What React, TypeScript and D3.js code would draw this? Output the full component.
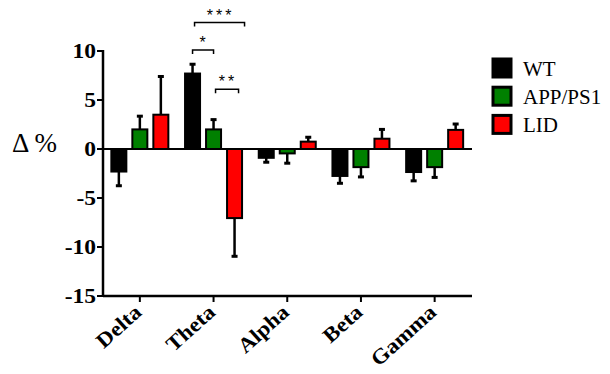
import * as d3 from "d3"

const bands = ["Delta", "Theta", "Alpha", "Beta", "Gamma"]
const groups = ["WT", "APP/PS1", "LID"]
const groupColors = ["#000000", "#008000", "#ff0000"]
const wtMeans = [-2.3, 7.7, -0.9, -2.75, -2.35]
const wtErr = [1.5, 1.0, 0.5, 0.8, 0.95]
const appMeans = [2.0, 2.0, -0.45, -1.85, -1.85]
const appErr = [1.4, 1.05, 1.05, 1.05, 1.1]
const lidMeans = [3.5, -7.05, 0.75, 1.05, 1.95]
const lidErr = [3.95, 3.95, 0.5, 1.0, 0.65]
const yTicks = [10, 5, 0, -5, -10, -15]
// significance brackets within Theta, level in data units
const sigs = [
  { band: "Theta", from: "WT", to: "APP/PS1", level: 10.1, label: "*", padA: 0, padB: 0 },
  { band: "Theta", from: "APP/PS1", to: "LID", level: 6.1, label: "**", padA: 2, padB: 4 },
  { band: "Theta", from: "WT", to: "LID", level: 12.9, label: "***", padA: 2, padB: 10 },
]

const W = 610
const H = 374
const FONT = "Liberation Serif, DejaVu Serif, serif"

export default function App() {
  const y = d3.scaleLinear().domain([-15, 10]).range([296, 51])
  const x0 = d3.scaleBand().domain(bands).range([103, 471.5])
  const x1 = d3.scaleBand().domain(groups).range([-31.5, 31.5])
  const barW = 15
  const means = [wtMeans, appMeans, lidMeans]
  const errs = [wtErr, appErr, lidErr]
  const cx = (b: string, g: string) => (x0(b) ?? 0) + x0.bandwidth() / 2 + (x1(g) ?? 0) + x1.bandwidth() / 2
  const left = 103
  const right = 472

  return (
    <div style={{ position: "absolute", left: 0, top: 0 }}>
      <svg width={W} height={H} style={{ display: "block", background: "#fff" }}>
        {/* y axis label */}
        <text x={12} y={152} fontFamily={FONT} fontSize={27}>Δ %</text>

        {/* bars */}
        {groups.map((g, gi) =>
          bands.map((b, bi) => {
            const v = means[gi][bi]
            const e = errs[gi][bi]
            const c = cx(b, g)
            const y0 = y(0)
            const yv = y(v)
            const ye = y(v + Math.sign(v) * e)
            return (
              <g key={g + b}>
                <line x1={c} x2={c} y1={yv} y2={ye} stroke="#000" strokeWidth={2.5} />
                <rect x={c - 3} y={v > 0 ? ye - 1 : ye - 2} width={6} height={3} fill="#000" />
                <rect
                  x={c - barW / 2}
                  y={Math.min(y0, yv)}
                  width={barW}
                  height={Math.abs(yv - y0)}
                  fill={groupColors[gi]}
                  stroke="#000"
                  strokeWidth={2}
                />
              </g>
            )
          })
        )}

        {/* zero line */}
        <line x1={left} x2={right} y1={y(0)} y2={y(0)} stroke="#000" strokeWidth={2} />

        {/* y axis */}
        <line x1={left} x2={left} y1={y(10) - 1} y2={y(-15) + 1} stroke="#000" strokeWidth={2.5} />
        {yTicks.map(t => (
          <g key={t}>
            <line x1={left - 6} x2={left} y1={y(t)} y2={y(t)} stroke="#000" strokeWidth={2} />
            <text
              x={left - 7}
              y={y(t)}
              dy="0.34em"
              textAnchor="end"
              fontFamily={FONT}
              fontWeight={700}
              fontSize={21}
              transform={`translate(${left - 7},0) scale(1.12,1) translate(${-(left - 7)},0)`}
            >
              {t}
            </text>
          </g>
        ))}

        {/* x axis */}
        <line x1={left} x2={right} y1={y(-15)} y2={y(-15)} stroke="#000" strokeWidth={2.5} />
        {bands.map(b => {
          const c = (x0(b) ?? 0) + x0.bandwidth() / 2
          return (
            <g key={b}>
              <line x1={c} x2={c} y1={y(-15)} y2={y(-15) + 6} stroke="#000" strokeWidth={2} />
              <text
                transform={`translate(${c + 3},${y(-15) + 18}) rotate(-42) scale(1.1,1)`}
                textAnchor="end"
                fontFamily={FONT}
                fontWeight={700}
                fontSize={21}
              >
                {b}
              </text>
            </g>
          )
        })}

        {/* significance */}
        {sigs.map(s => {
          const a = cx(s.band, s.from) + s.padA
          const bb = cx(s.band, s.to) + s.padB
          const ly = y(s.level)
          return (
            <g key={s.label}>
              <path
                d={`M${a},${ly + 4}V${ly}H${bb}V${ly + 4}`}
                fill="none"
                stroke="#000"
                strokeWidth={1.5}
              />
              <text
                x={(a + bb) / 2 + 1}
                y={ly - 2}
                textAnchor="middle"
                fontFamily="Liberation Sans, Arial, sans-serif"
                fontSize={16}
                letterSpacing={3}
              >
                {s.label}
              </text>
            </g>
          )
        })}

        {/* legend */}
        {groups.map((g, i) => (
          <g key={g} transform={`translate(493,${59 + i * 28.2})`}>
            <rect x={0} y={0} width={18} height={18} fill={groupColors[i]} stroke="#000" strokeWidth={3} />
            <text x={30} y={17} fontFamily={FONT} fontSize={21}>{g}</text>
          </g>
        ))}
      </svg>
    </div>
  )
}
